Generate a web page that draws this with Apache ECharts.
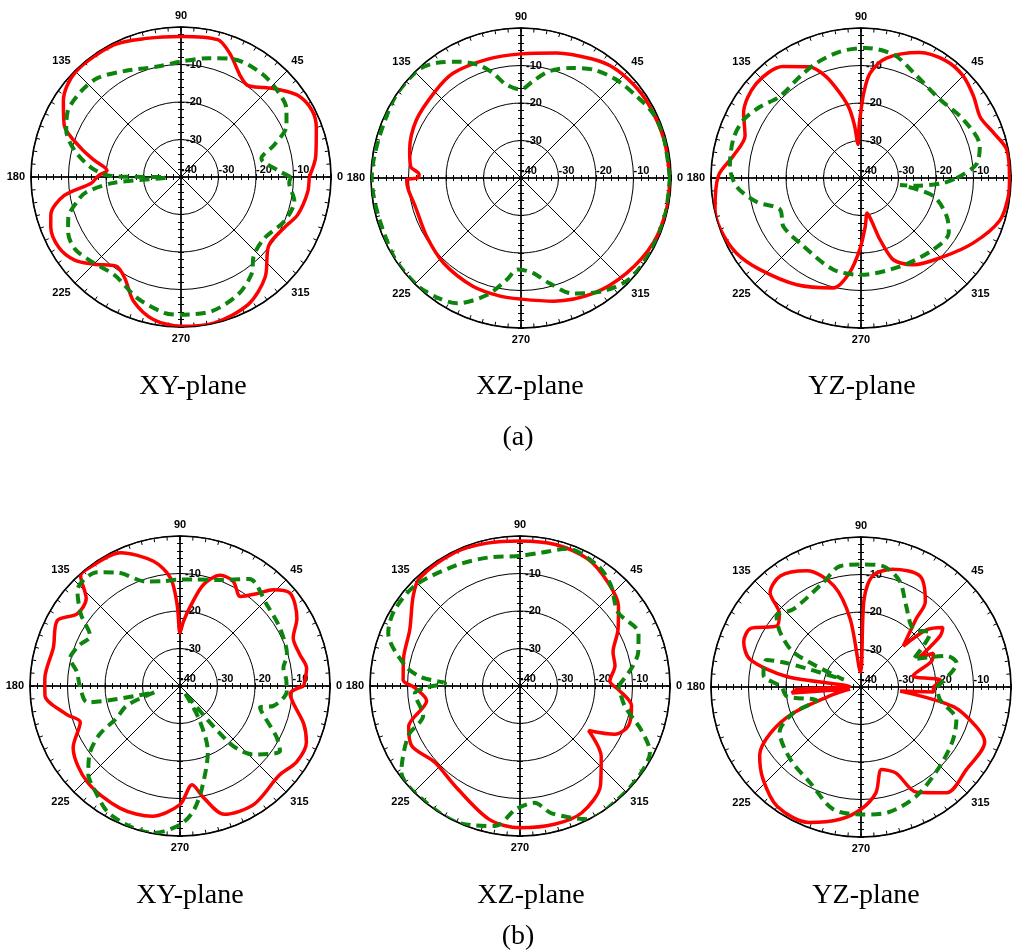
<!DOCTYPE html>
<html>
<head>
<meta charset="utf-8">
<script src="https://cdn.jsdelivr.net/npm/echarts@6/dist/echarts.min.js"></script>
<style>
html,body{margin:0;padding:0;background:#fff;}
#chart{width:1013px;height:951px;}
</style>
</head>
<body>
<div id="chart"></div>
<script>
// ---- data: [angle (deg), gain (dB)] ----
const xyA_red = [[0,-5.8],[9,-3.6],[20,-1.6],[27,-0.8],[35,-2],[42,-5.1],[47,-7.4],[54,-9.8],[60,-8.6],[68,-4.8],[75,-2.1],[90,-2.5],[104,-1.9],[117,-0.5],[135,-0.3],[147,-2.6],[156,-5.9],[164,-12.3],[169,-16.4],[175,-20.2],[179,-18],[184,-16],[189,-8.5],[196,-3.9],[201,-2.8],[210,-2.4],[218,-4],[225,-7.1],[234,-10.6],[241,-9.1],[249,-4.6],[259,-1.3],[270,-0.2],[283,-0.1],[298,-1.6],[310,-5.1],[322,-10.3],[334,-9.3],[342,-7.3],[353,-6],[360,-5.8]];
const xyA_green = [[0,-10.7],[4,-14.2],[13,-18],[19,-13.7],[26,-8.7],[33,-6.5],[42,-5.5],[52,-5],[66,-5.6],[77,-7.5],[90,-9.2],[102,-9.9],[118,-8],[130,-5.5],[139,-4.9],[150,-5.1],[158,-7],[166,-10.8],[174,-15.9],[179,-21],[182,-36],[185,-22],[189,-14.5],[193,-11.7],[200,-8],[206,-6.5],[214,-5.8],[223,-7.1],[236,-8.4],[250,-5.7],[263,-3.5],[270,-3.3],[283,-3.3],[296,-5.2],[306,-8],[313,-11.5],[324,-12.4],[337,-10],[348,-9.1],[357,-11.1],[360,-10.7]];
const xzA_red = [[0,-0.3],[15,-0.5],[30,-0.7],[40,-1],[50,-1.6],[59,-3],[74,-5.3],[90,-6.9],[106,-7.1],[123,-6.7],[135,-7.5],[151,-8.1],[166,-9.4],[174,-10.4],[178,-12.8],[180,-12.4],[181,-9.5],[186,-9.8],[195,-10.8],[212,-10.4],[228,-9.3],[246,-8.4],[260,-8],[270,-7.7],[285,-6],[302,-3.7],[318,-2.1],[334,-0.7],[348,-0.3],[360,-0.3]];
const xzA_green = [[0,-0.3],[16,-0.4],[26,-0.8],[35,-2.2],[46,-3.5],[56,-5.2],[65,-7.6],[75,-10.5],[83,-14],[90,-16.4],[99,-14.8],[105,-11],[111,-7.6],[118,-4.9],[126,-2],[134,-0.2],[150,-0.2],[180,-0.2],[210,-0.2],[226,-0.2],[236,-1.2],[243,-2.5],[254,-7.6],[262,-12.6],[268,-15.6],[277,-14.5],[285,-11],[294,-6.3],[306,-2.7],[317,-0.5],[330,-0.3],[345,-0.3],[360,-0.3]];
const yzA_red = [[0,-0.4],[11,-0.4],[19,-2.7],[27,-4.3],[36,-2.9],[45,-1.5],[54,-1.4],[65,-3.1],[78,-7.3],[85,-11.9],[88,-17],[90,-22],[92,-26],[95,-31],[97,-26],[99,-22],[101,-19.6],[104,-16.6],[109,-11.4],[115,-7.3],[125,-3.7],[138,-2.4],[151,-4.2],[160,-7.1],[170,-5.5],[179,-2],[192,-0.2],[200,-0.1],[211,-1.2],[222,-3.6],[239,-6.8],[256,-9.8],[263,-14.5],[269,-20.9],[275,-27],[280,-30.5],[284,-28],[287,-23],[291,-17],[295,-15],[301,-13],[316,-9.7],[330,-5.4],[343,-1.3],[353,-0.4],[360,-0.4]];
const yzA_green = [[0,-14.5],[2,-12.7],[7,-8.9],[15,-7.2],[30,-8.6],[45,-10.3],[63,-8.7],[75,-6],[88,-5.3],[99,-5.8],[111,-7.1],[121,-8.4],[135,-9.3],[145,-7],[154,-5],[163,-4.4],[175,-4.9],[184,-6.8],[193,-11.5],[201,-16.8],[212,-15.6],[227,-16.2],[253,-14.5],[270,-14.2],[294,-14.2],[315,-12.9],[328,-12.4],[336,-15],[346,-20.1],[350,-29.4],[352,-25],[356.5,-18],[360,-14.5]];
const xyB_red = [[0,-7],[8,-5.9],[15,-7],[23,-7.2],[30,-4],[40,-1.6],[46,-4.3],[50,-7.8],[56,-11.2],[63,-8.7],[70,-8.6],[77,-12.3],[83,-19],[87,-22.8],[90,-25.8],[92,-18.3],[95,-11.1],[102,-6],[114,-1.1],[128,-0.2],[132,-0.4],[137,-5.8],[145,-6.5],[152,-2.9],[163,-4.7],[177,-3.9],[184,-3.9],[194,-8.8],[200,-11.7],[210,-7.1],[226,-4.4],[244,-3.7],[258,-4.5],[270,-8.4],[277,-13.5],[282,-9.5],[289,-3.8],[302,-2.8],[318,-4.4],[327,-2.9],[336,-3.1],[343,-5.5],[351,-9.3],[356,-10.6],[360,-7]];
const xyB_green = [[0,-11.6],[3,-11.6],[10,-12],[16,-10.3],[30,-9.2],[43,-8.3],[57,-6],[69,-9.7],[83,-11.4],[90,-11.6],[99,-11.7],[108,-10.7],[119,-5.4],[126,-2.5],[137,-2.6],[144,-7.3],[151,-12.6],[158,-11],[166,-9.8],[172,-12.2],[180,-13.3],[190,-15],[194,-33],[200,-25],[207,-21],[211,-15],[217,-9.8],[224,-6],[230,-4.3],[240,-1.3],[251,-0.2],[260,-0.2],[270,-3],[276,-6.4],[282,-12],[293,-21],[300,-30],[305,-38],[311,-19.8],[317,-13.2],[327,-8.2],[332,-10.8],[345,-17.9],[348,-14.5],[357,-11.5],[360,-11.6]];
const xzB_red = [[0,-15],[3,-16],[12,-14.1],[20,-13.6],[30,-9.8],[39,-6.2],[50,-3.7],[62,-1.6],[76,-1.1],[90,-1.3],[103,-0.9],[116,-0.4],[133,-0.7],[140,-2.8],[153,-7],[167,-8.1],[177,-8.8],[181,-12],[189,-14.8],[200,-8.4],[209,-7],[222,-9.5],[237,-8.2],[257,-3.5],[270,-2.2],[284,-2],[296,-2.4],[309,-5.9],[319,-11.3],[327,-18.2],[333,-11.6],[340,-9.2],[350,-9.8],[358,-13.8],[360,-15]];
const xzB_green = [[0,-13.8],[9,-9.9],[16,-7.2],[24,-5.4],[37,-7.3],[48,-3.8],[57,-1.8],[71,-1.3],[81,-4],[90,-5.3],[104,-4.7],[118,-3.6],[136,-1.3],[149,-0.9],[158,-2.1],[170,-8.9],[175,-13.7],[178,-20],[181,-14.7],[184,-11.9],[197,-13],[204,-7.4],[216,-0.9],[230,-0.1],[247,-0.1],[260,-2.1],[268,-7.1],[277,-8.6],[284,-5],[297,-0.1],[311,-0.1],[323,-0.2],[333,-1.1],[340,-5.6],[349,-11.5],[360,-13.8]];
const yzB_red = [[0,-20.7],[5,-18.8],[12,-25.8],[20,-20],[25,-18.7],[27,-22.6],[30,-18.8],[33,-14.7],[36,-13],[41,-16.7],[44,-24.3],[51,-16.6],[53,-11.5],[62,-6.5],[75,-7.5],[84,-10.2],[88,-16.6],[92,-36],[99,-21.7],[105,-12.1],[115,-5.8],[126,-3.4],[134,-5.1],[138,-10.7],[144,-12.3],[152,-6.7],[159,-6.5],[166,-9.5],[172,-20],[178,-37],[182,-23],[185,-21.5],[190,-37],[195,-32.4],[201,-20.7],[207,-12.9],[214,-7.4],[223,-4.2],[235,-1.1],[249,-1.3],[261,-4.3],[270,-7.4],[278,-11.5],[284,-17.3],[292,-15.3],[298,-8.2],[309,-3.7],[322,-4.3],[336,-3.9],[341,-7.5],[348,-14.8],[354,-29.5],[356,-20.6],[360,-20.7]];
const yzB_green = [[0,-19.8],[14,-13.7],[20,-15.7],[28,-24.2],[38,-16.6],[48,-19.2],[61,-15.2],[70,-9.9],[80,-7.2],[90,-7.3],[100,-7.3],[110,-10.4],[131,-12.5],[140,-10.6],[146,-14],[153,-20],[157,-35],[162,-20],[164,-13.8],[173,-13.8],[180,-18.8],[187,-20],[197,-27.6],[201,-20.7],[209,-15.2],[226,-13],[242,-11.1],[257,-6.6],[270,-6],[282,-5.8],[297,-7.4],[315,-10.2],[330,-11.7],[341,-13.1],[351,-18.7],[360,-19.8]];

const angleTicks = [0, 360, 45];      // min, max, step (deg)
const radiusTicks = [-40, 0, 10];     // min, max, step (dB)
const planeLabels = ['XY-plane', 'XZ-plane', 'YZ-plane'];
const partLabels = ['(a)', '(b)'];

// ---- layout ----
const R = 150;
const plots = [
  {center: [181, 177], red: xyA_red, green: xyA_green},
  {center: [521, 178], red: xzA_red, green: xzA_green},
  {center: [861, 178], red: yzA_red, green: yzA_green},
  {center: [180, 686], red: xyB_red, green: xyB_green},
  {center: [520, 686], red: xzB_red, green: xzB_green},
  {center: [861, 687], red: yzB_red, green: yzB_green}
];

const FONT = 'Liberation Sans, Arial, sans-serif';
const polar = [], angleAxis = [], radiusAxis = [], series = [];

plots.forEach((p) => {
  let mainIdx = -1;
  [0, 90, 180, 270].forEach((d) => {
    [1, -1].forEach((side) => {
      polar.push({center: p.center, radius: R});
      const idx = polar.length - 1;
      const main = d === 0 && side === 1;
      if (main) mainIdx = idx;
      angleAxis.push({
        polarIndex: idx, type: 'value',
        min: angleTicks[0], max: angleTicks[1], interval: angleTicks[2],
        startAngle: d, clockwise: false, show: main,
        axisLine: {lineStyle: {color: '#000', width: 1.6}},
        axisTick: {show: true, inside: true, length: 4, lineStyle: {color: '#000', width: 1}},
        minorTick: {show: true, splitNumber: 9, length: 4, lineStyle: {color: '#000', width: 1}},
        axisLabel: {show: true, margin: 6, color: '#000', fontSize: 11, fontWeight: 'bold', fontFamily: FONT},
        splitLine: {show: true, lineStyle: {color: '#000', width: 1}}
      });
      const labelShow = side === 1 && (d === 0 || d === 90);
      const lbl = {show: labelShow, color: '#000', fontSize: 11, fontWeight: 'bold', fontFamily: FONT};
      if (d === 0) {
        Object.assign(lbl, {align: 'left', verticalAlign: 'bottom', margin: 2,
          formatter: (v) => (v === 0 ? '' : String(v))});
      } else {
        Object.assign(lbl, {align: 'left', verticalAlign: 'middle', margin: -5, padding: [0, 0, 7, 0],
          formatter: (v) => (v === 0 || v === -40 ? '' : String(v))});
      }
      radiusAxis.push({
        polarIndex: idx, type: 'value',
        min: radiusTicks[0], max: radiusTicks[1], interval: radiusTicks[2],
        axisLine: {show: side === 1, lineStyle: {color: '#000', width: 1.5}},
        axisTick: {show: true, length: 3 * side, lineStyle: {color: '#000', width: 1}},
        minorTick: {show: true, splitNumber: 5, length: 3 * side, lineStyle: {color: '#000', width: 1}},
        axisLabel: lbl,
        splitLine: {show: main, lineStyle: {color: '#000', width: 1}}
      });
    });
  });
  series.push({
    type: 'line', coordinateSystem: 'polar', polarIndex: mainIdx,
    data: p.red.map(([a, v]) => [v, a]),
    symbol: 'none', smooth: 0.3, z: 3,
    lineStyle: {color: '#ff0000', width: 3.5}
  });
  series.push({
    type: 'line', coordinateSystem: 'polar', polarIndex: mainIdx,
    data: p.green.map(([a, v]) => [v, a]),
    symbol: 'none', smooth: 0.3, z: 4,
    lineStyle: {color: '#0d840d', width: 4, type: [10, 6]}
  });
});

const titleStyle = {fontFamily: 'Liberation Serif, Times New Roman, serif', fontSize: 28, fontWeight: 'normal', color: '#000'};
const title = [];
const textX = [[193, 530, 862], [190, 531, 866]];
const textTop = [373, 882];
[0, 1].forEach((row) => {
  planeLabels.forEach((t, i) => {
    title.push({text: t, left: textX[row][i], top: textTop[row], textAlign: 'center', textStyle: titleStyle, padding: 0});
  });
});
title.push({text: partLabels[0], left: 518, top: 424, textAlign: 'center', textStyle: titleStyle, padding: 0});
title.push({text: partLabels[1], left: 518, top: 923, textAlign: 'center', textStyle: titleStyle, padding: 0});

const chart = echarts.init(document.getElementById('chart'), null, {renderer: 'canvas'});
chart.setOption({
  animation: false,
  backgroundColor: '#fff',
  title, polar, angleAxis, radiusAxis, series
});
</script>
</body>
</html>
